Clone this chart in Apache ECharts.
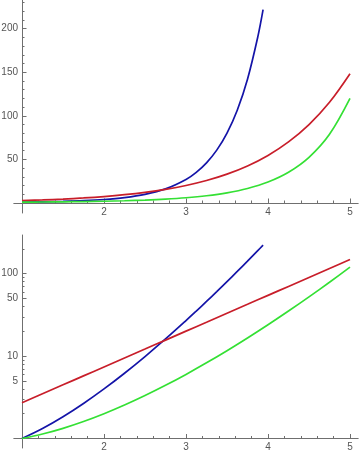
<!DOCTYPE html>
<html>
<head>
<meta charset="utf-8">
<script src="https://cdn.jsdelivr.net/npm/echarts@6/dist/echarts.min.js"></script>
<style>
html,body{margin:0;padding:0;background:#fff;}
#chart{width:360px;height:455px;}
</style>
</head>
<body>
<div id="chart"></div>
<script>
// ---- data ----
const xValues = [1, 1.25, 1.5, 1.75, 2, 2.25, 2.5, 2.75, 3, 3.25, 3.5, 3.75, 4, 4.25, 4.5, 4.75, 5];
const redValues = [2.718, 3.490, 4.482, 5.755, 7.389, 9.488, 12.18, 15.64, 20.09, 25.79, 33.12, 42.52, 54.60, 70.11, 90.02, 115.6, 148.4];
const greenValues = [1, 1.133, 1.329, 1.608, 2, 2.549, 3.323, 4.423, 6, 8.285, 11.63, 16.59, 24, 35.21, 52.34, 78.79, 120];
const blueX = [1, 1.25, 1.5, 1.75, 2, 2.25, 2.5, 2.75, 3, 3.125, 3.25, 3.375, 3.5, 3.625, 3.75, 3.875, 3.94];
const blueValues = [1, 1.322, 1.837, 2.663, 4, 6.200, 9.882, 16.15, 27, 35.19, 46.09, 60.66, 80.21, 106.5, 142.1, 190.4, 221.9];

// ticks
const xMajorTicks = [1, 2, 3, 4, 5];
const xTickLabels = [2, 3, 4, 5];
const xMinorTicks = [1.2, 1.4, 1.6, 1.8, 2.2, 2.4, 2.6, 2.8, 3.2, 3.4, 3.6, 3.8, 4.2, 4.4, 4.6, 4.8];
const linMajorTicks = [0, 50, 100, 150, 200];
const linTickLabels = [50, 100, 150, 200];
const linMinorTicks = [10, 20, 30, 40, 60, 70, 80, 90, 110, 120, 130, 140, 160, 170, 180, 190, 210, 220, 230];
const logMajorTicks = [1, 5, 10, 50, 100];
const logTickLabels = [5, 10, 50, 100];
const logMinorTicks = [2, 3, 4, 6, 7, 8, 9, 20, 30, 40, 60, 70, 80, 90, 200];

// ---- styling / layout ----
const AXIS = '#6f6f6f';
const LABEL = '#555555';
const FONT = 'Liberation Sans, Arial, sans-serif';
const COLORS = { blue: '#1414a8', red: '#c81e2a', green: '#34e034' };
const X_MIN = 0.9, X_MAX = 5.1;

function pairs(xs, ys) { return xs.map((x, i) => [x, ys[i]]); }

const chart = echarts.init(document.getElementById('chart'), null, { renderer: 'canvas' });

function xAxes(gridIndex, offset) {
  return [
    {
      type: 'value', gridIndex, min: X_MIN, max: X_MAX, position: 'bottom', offset,
      axisLine: { show: true, onZero: false, lineStyle: { color: AXIS, width: 1 } },
      axisTick: { show: true, inside: true, length: 4.5, customValues: xMajorTicks, lineStyle: { color: AXIS } },
      axisLabel: { show: true, customValues: xTickLabels, margin: 4, color: LABEL, fontSize: 10, fontFamily: FONT },
      splitLine: { show: false }
    },
    {
      type: 'value', gridIndex, min: X_MIN, max: X_MAX, position: 'bottom', offset,
      axisLine: { show: false, onZero: false },
      axisTick: { show: true, inside: true, length: 2.5, customValues: xMinorTicks, lineStyle: { color: AXIS } },
      axisLabel: { show: false },
      splitLine: { show: false }
    }
  ];
}

function yAxes(gridIndex, type, min, max, major, labels, minor, offset) {
  const base = { type, gridIndex, min, max, position: 'left', offset };
  if (type === 'log') base.logBase = 10;
  return [
    Object.assign({}, base, {
      axisLine: { show: true, onZero: false, lineStyle: { color: AXIS, width: 1 } },
      axisTick: { show: true, inside: true, length: 4.5, customValues: major, lineStyle: { color: AXIS } },
      axisLabel: { show: true, customValues: labels, margin: 4, color: LABEL, fontSize: 10, fontFamily: FONT },
      splitLine: { show: false }
    }),
    Object.assign({}, base, {
      axisLine: { show: false, onZero: false },
      axisTick: { show: true, inside: true, length: 2.5, customValues: minor, lineStyle: { color: AXIS } },
      axisLabel: { show: false },
      splitLine: { show: false }
    })
  ];
}

function line(name, data, color, xi, yi) {
  return {
    name, type: 'line', data, xAxisIndex: xi, yAxisIndex: yi,
    showSymbol: false, symbol: 'none', smooth: 0.35,
    lineStyle: { color, width: 1.7 }, clip: true, z: 3
  };
}

const option = {
  animation: false,
  backgroundColor: '#ffffff',
  grid: [
    { left: 13.8, right: 1.8, top: 0, height: 213, outerBoundsMode: 'none', containLabel: false },
    { left: 13.8, right: 1.8, top: 235, height: 213, outerBoundsMode: 'none', containLabel: false }
  ],
  xAxis: [].concat(xAxes(0, -10), xAxes(1, -9.5)),
  yAxis: [].concat(
    yAxes(0, 'value', -11.5, 233, linMajorTicks, linTickLabels, linMinorTicks, -8.2),
    yAxes(1, 'log', 0.767, 295, logMajorTicks, logTickLabels, logMinorTicks, -8.2)
  ),
  series: [
    line('x^x', pairs(blueX, blueValues), COLORS.blue, 0, 0),
    line('e^x', pairs(xValues, redValues), COLORS.red, 0, 0),
    line('Gamma', pairs(xValues, greenValues), COLORS.green, 0, 0),
    line('x^x', pairs(blueX, blueValues), COLORS.blue, 2, 2),
    line('e^x', pairs(xValues, redValues), COLORS.red, 2, 2),
    line('Gamma', pairs(xValues, greenValues), COLORS.green, 2, 2)
  ]
};
chart.setOption(option);
</script>
</body>
</html>
